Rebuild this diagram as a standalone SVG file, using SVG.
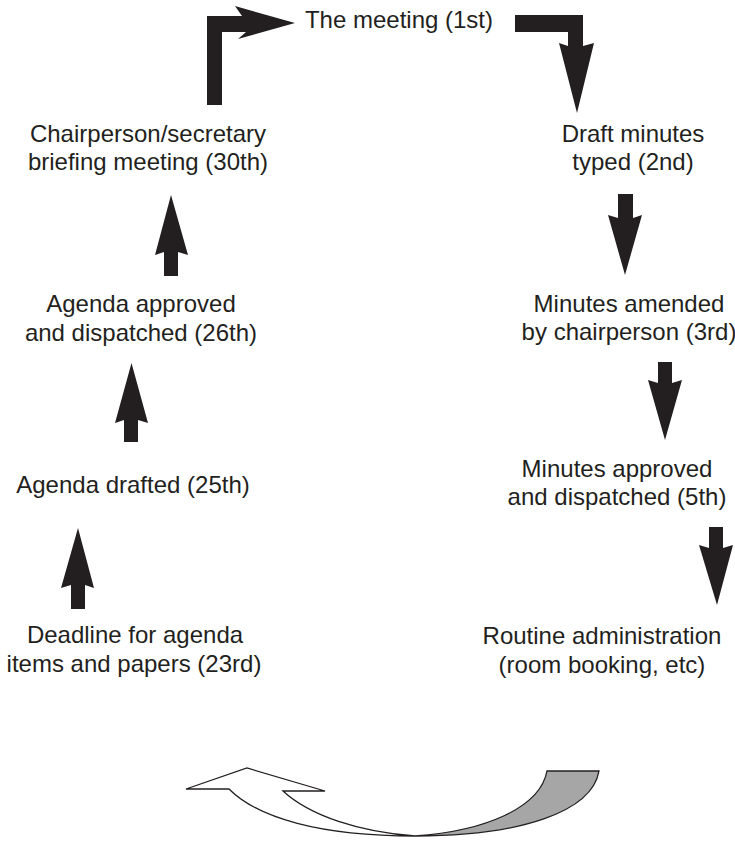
<svg xmlns="http://www.w3.org/2000/svg" width="735" height="854" viewBox="0 0 735 854">
<style>
.t{font-family:"Liberation Sans",Arial,Helvetica,sans-serif;font-size:24px;fill:#231f20;text-anchor:middle}
.a{fill:#231f20;stroke:none}
.r{stroke:#231f20;stroke-width:1.3;stroke-linejoin:miter}
</style>
<rect width="735" height="854" fill="#ffffff"/>
<g id="n1"><text class="t" x="399" y="28">The meeting (1st)</text></g>
<g id="n2"><text class="t" x="633" y="142">Draft minutes</text><text class="t" x="633" y="170">typed (2nd)</text></g>
<g id="n3"><text class="t" x="629" y="312">Minutes amended</text><text class="t" x="629" y="340">by chairperson (3rd)</text></g>
<g id="n4"><text class="t" x="617" y="477">Minutes approved</text><text class="t" x="617" y="505">and dispatched (5th)</text></g>
<g id="n5"><text class="t" x="602" y="644">Routine administration</text><text class="t" x="602" y="673">(room booking, etc)</text></g>
<g id="n6"><text class="t" x="135" y="643">Deadline for agenda</text><text class="t" x="134" y="672">items and papers (23rd)</text></g>
<g id="n7"><text class="t" x="133" y="493">Agenda drafted (25th)</text></g>
<g id="n8"><text class="t" x="141" y="312">Agenda approved</text><text class="t" x="141" y="341">and dispatched (26th)</text></g>
<g id="n9"><text class="t" x="148" y="142">Chairperson/secretary</text><text class="t" x="148" y="170">briefing meeting (30th)</text></g>
<g id="connectors">
<path class="a" d="M207,105 L207,16 L242,16 L235,6 L295,23 L238,39 L246,32 L222,32 L222,105 Z"/>
<path class="a" d="M515,15 L583,15 L583,46 L594,43 L577,113 L559,43 L568,46 L568,32 L515,32 Z"/>
<path class="a" d="M618,194 L633,194 L633,218 L642,215 L625,275 L608,215 L618,218 Z"/>
<path class="a" d="M658,362 L672,362 L672,383 L682,380 L665,440 L648,380 L658,383 Z"/>
<path class="a" d="M709,527 L723,527 L723,548 L733,545 L717,605 L699,545 L709,548 Z"/>
<path class="a" d="M71,609 L71,585 L61,588 L78,528 L94,588 L85,585 L85,609 Z"/>
<path class="a" d="M124,442 L124,420 L115,423 L131.5,363 L148,423 L138,420 L138,442 Z"/>
<path class="a" d="M164,276 L164,252 L155,255 L171,195 L188,255 L178,252 L178,276 Z"/>
<path class="r" fill="#a6a6a6" d="M547,771 L599,771 C592,812 520,836 415,836 C485,831 540,808 547,771 Z"/>
<path class="r" fill="#ffffff" d="M283,791 L325,791 L247,768 L186,789 L229,789 C258,818 320,836 415,836 C360,832 310,816 283,791 Z"/>
</g>
</svg>
